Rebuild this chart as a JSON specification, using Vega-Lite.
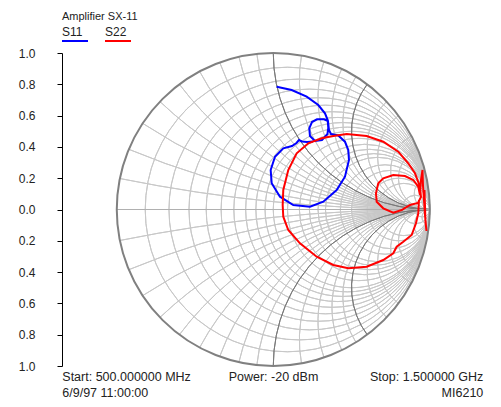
{
  "$schema": "https://vega.github.io/schema/vega-lite/v6.json",
  "width": 429,
  "height": 313,
  "autosize": {"type": "none"},
  "padding": {"left": 62, "top": 53, "right": 10, "bottom": 41},
  "config": {
    "view": {"stroke": null},
    "font": "Liberation Sans",
    "text": {"font": "Liberation Sans"}
  },
  "title": {"text": "Amplifier SX-11", "anchor": "start", "frame": "group", "fontSize": 11, "fontWeight": "normal", "color": "#222222", "font": "Liberation Sans", "offset": 4},
  "datasets": {
    "grid": [
      {"u": 0.0909, "v": 0, "rad": 0.9091, "t1": 0, "t2": 360, "kind": "fine"},
      {"u": 0.1667, "v": 0, "rad": 0.8333, "t1": 0, "t2": 360, "kind": "fine"},
      {"u": 0.2308, "v": 0, "rad": 0.7692, "t1": 0, "t2": 360, "kind": "fine"},
      {"u": 0.2857, "v": 0, "rad": 0.7143, "t1": 0, "t2": 360, "kind": "fine"},
      {"u": 0.3333, "v": 0, "rad": 0.6667, "t1": 0, "t2": 360, "kind": "fine"},
      {"u": 0.375, "v": 0, "rad": 0.625, "t1": 0, "t2": 360, "kind": "fine"},
      {"u": 0.4118, "v": 0, "rad": 0.5882, "t1": 0, "t2": 360, "kind": "fine"},
      {"u": 0.4444, "v": 0, "rad": 0.5556, "t1": 0, "t2": 360, "kind": "fine"},
      {"u": 0.4737, "v": 0, "rad": 0.5263, "t1": 0, "t2": 360, "kind": "fine"},
      {"u": 0.5, "v": 0, "rad": 0.5, "t1": 0, "t2": 360, "kind": "fine"},
      {"u": 0.5455, "v": 0, "rad": 0.4545, "t1": 0, "t2": 360, "kind": "fine"},
      {"u": 0.5833, "v": 0, "rad": 0.4167, "t1": 0, "t2": 360, "kind": "fine"},
      {"u": 0.6154, "v": 0, "rad": 0.3846, "t1": 0, "t2": 360, "kind": "fine"},
      {"u": 0.6429, "v": 0, "rad": 0.3571, "t1": 0, "t2": 360, "kind": "fine"},
      {"u": 0.6667, "v": 0, "rad": 0.3333, "t1": 0, "t2": 360, "kind": "fine"},
      {"u": 0.7143, "v": 0, "rad": 0.2857, "t1": 0, "t2": 360, "kind": "fine"},
      {"u": 0.75, "v": 0, "rad": 0.25, "t1": 0, "t2": 360, "kind": "fine"},
      {"u": 0.8, "v": 0, "rad": 0.2, "t1": 0, "t2": 360, "kind": "fine"},
      {"u": 0.8333, "v": 0, "rad": 0.1667, "t1": 0, "t2": 360, "kind": "fine"},
      {"u": 0.9091, "v": 0, "rad": 0.0909, "t1": 0, "t2": 360, "kind": "fine"},
      {"u": 0.9524, "v": 0, "rad": 0.0476, "t1": 0, "t2": 360, "kind": "fine"},
      {"u": 1, "v": 10, "rad": 10, "t1": 180, "t2": 191.42, "kind": "fine"},
      {"u": 1, "v": 5, "rad": 5, "t1": 180, "t2": 202.62, "kind": "fine"},
      {"u": 1, "v": 3.3333, "rad": 3.3333, "t1": 180, "t2": 213.4, "kind": "fine"},
      {"u": 1, "v": 2.5, "rad": 2.5, "t1": 180, "t2": 223.6, "kind": "fine"},
      {"u": 1, "v": 2, "rad": 2, "t1": 180, "t2": 233.13, "kind": "fine"},
      {"u": 1, "v": 1.6667, "rad": 1.6667, "t1": 180, "t2": 241.93, "kind": "fine"},
      {"u": 1, "v": 1.4286, "rad": 1.4286, "t1": 180, "t2": 249.99, "kind": "fine"},
      {"u": 1, "v": 1.25, "rad": 1.25, "t1": 180, "t2": 257.32, "kind": "fine"},
      {"u": 1, "v": 1.1111, "rad": 1.1111, "t1": 180, "t2": 263.97, "kind": "fine"},
      {"u": 1, "v": 1, "rad": 1, "t1": 180, "t2": 270, "kind": "major"},
      {"u": 1, "v": 0.8333, "rad": 0.8333, "t1": 180, "t2": 280.39, "kind": "fine"},
      {"u": 1, "v": 0.7143, "rad": 0.7143, "t1": 180, "t2": 288.92, "kind": "fine"},
      {"u": 1, "v": 0.625, "rad": 0.625, "t1": 180, "t2": 295.99, "kind": "fine"},
      {"u": 1, "v": 0.5556, "rad": 0.5556, "t1": 180, "t2": 301.89, "kind": "fine"},
      {"u": 1, "v": 0.5, "rad": 0.5, "t1": 180, "t2": 306.87, "kind": "major"},
      {"u": 1, "v": 0.4, "rad": 0.4, "t1": 180, "t2": 316.4, "kind": "fine"},
      {"u": 1, "v": 0.3333, "rad": 0.3333, "t1": 180, "t2": 323.13, "kind": "fine"},
      {"u": 1, "v": 0.25, "rad": 0.25, "t1": 180, "t2": 331.93, "kind": "fine"},
      {"u": 1, "v": 0.2, "rad": 0.2, "t1": 180, "t2": 337.38, "kind": "fine"},
      {"u": 1, "v": 0.1, "rad": 0.1, "t1": 180, "t2": 348.58, "kind": "fine"},
      {"u": 1, "v": 0.05, "rad": 0.05, "t1": 180, "t2": 354.28, "kind": "fine"},
      {"u": 1, "v": -10, "rad": 10, "t1": 348.58, "t2": 360, "kind": "fine"},
      {"u": 1, "v": -5, "rad": 5, "t1": 337.38, "t2": 360, "kind": "fine"},
      {"u": 1, "v": -3.3333, "rad": 3.3333, "t1": 326.6, "t2": 360, "kind": "fine"},
      {"u": 1, "v": -2.5, "rad": 2.5, "t1": 316.4, "t2": 360, "kind": "fine"},
      {"u": 1, "v": -2, "rad": 2, "t1": 306.87, "t2": 360, "kind": "fine"},
      {"u": 1, "v": -1.6667, "rad": 1.6667, "t1": 298.07, "t2": 360, "kind": "fine"},
      {"u": 1, "v": -1.4286, "rad": 1.4286, "t1": 290.01, "t2": 360, "kind": "fine"},
      {"u": 1, "v": -1.25, "rad": 1.25, "t1": 282.68, "t2": 360, "kind": "fine"},
      {"u": 1, "v": -1.1111, "rad": 1.1111, "t1": 276.03, "t2": 360, "kind": "fine"},
      {"u": 1, "v": -1, "rad": 1, "t1": 270, "t2": 360, "kind": "major"},
      {"u": 1, "v": -0.8333, "rad": 0.8333, "t1": 259.61, "t2": 360, "kind": "fine"},
      {"u": 1, "v": -0.7143, "rad": 0.7143, "t1": 251.08, "t2": 360, "kind": "fine"},
      {"u": 1, "v": -0.625, "rad": 0.625, "t1": 244.01, "t2": 360, "kind": "fine"},
      {"u": 1, "v": -0.5556, "rad": 0.5556, "t1": 238.11, "t2": 360, "kind": "fine"},
      {"u": 1, "v": -0.5, "rad": 0.5, "t1": 233.13, "t2": 360, "kind": "major"},
      {"u": 1, "v": -0.4, "rad": 0.4, "t1": 223.6, "t2": 360, "kind": "fine"},
      {"u": 1, "v": -0.3333, "rad": 0.3333, "t1": 216.87, "t2": 360, "kind": "fine"},
      {"u": 1, "v": -0.25, "rad": 0.25, "t1": 208.07, "t2": 360, "kind": "fine"},
      {"u": 1, "v": -0.2, "rad": 0.2, "t1": 202.62, "t2": 360, "kind": "fine"},
      {"u": 1, "v": -0.1, "rad": 0.1, "t1": 191.42, "t2": 360, "kind": "fine"},
      {"u": 1, "v": -0.05, "rad": 0.05, "t1": 185.72, "t2": 360, "kind": "fine"},
      {"u": 0, "v": 0, "rad": 1, "t1": 0, "t2": 360, "kind": "outer"}
    ],
    "traces": [
      {"series": "S11", "i": 1, "u": 0.0217, "v": 0.7847},
      {"series": "S11", "i": 2, "u": 0.1176, "v": 0.7636},
      {"series": "S11", "i": 3, "u": 0.2134, "v": 0.7208},
      {"series": "S11", "i": 4, "u": 0.2875, "v": 0.6677},
      {"series": "S11", "i": 5, "u": 0.3304, "v": 0.6147},
      {"series": "S11", "i": 6, "u": 0.3476, "v": 0.5719},
      {"series": "S11", "i": 7, "u": 0.3514, "v": 0.5208},
      {"series": "S11", "i": 8, "u": 0.3463, "v": 0.4824},
      {"series": "S11", "i": 9, "u": 0.3112, "v": 0.4441},
      {"series": "S11", "i": 10, "u": 0.2665, "v": 0.4377},
      {"series": "S11", "i": 11, "u": 0.2345, "v": 0.4696},
      {"series": "S11", "i": 12, "u": 0.23, "v": 0.5188},
      {"series": "S11", "i": 13, "u": 0.2473, "v": 0.5591},
      {"series": "S11", "i": 14, "u": 0.2792, "v": 0.5764},
      {"series": "S11", "i": 15, "u": 0.324, "v": 0.5764},
      {"series": "S11", "i": 16, "u": 0.3495, "v": 0.5655},
      {"series": "S11", "i": 17, "u": 0.3559, "v": 0.508},
      {"series": "S11", "i": 18, "u": 0.3687, "v": 0.4824},
      {"series": "S11", "i": 19, "u": 0.4153, "v": 0.4728},
      {"series": "S11", "i": 20, "u": 0.4581, "v": 0.4332},
      {"series": "S11", "i": 21, "u": 0.4792, "v": 0.3802},
      {"series": "S11", "i": 22, "u": 0.4837, "v": 0.3163},
      {"series": "S11", "i": 23, "u": 0.4581, "v": 0.2096},
      {"series": "S11", "i": 24, "u": 0.4051, "v": 0.1246},
      {"series": "S11", "i": 25, "u": 0.3195, "v": 0.0498},
      {"series": "S11", "i": 26, "u": 0.2345, "v": 0.0179},
      {"series": "S11", "i": 27, "u": 0.1278, "v": 0.0288},
      {"series": "S11", "i": 28, "u": 0.0428, "v": 0.0818},
      {"series": "S11", "i": 29, "u": -0.0102, "v": 0.1674},
      {"series": "S11", "i": 30, "u": -0.0166, "v": 0.2524},
      {"series": "S11", "i": 31, "u": 0.0109, "v": 0.3374},
      {"series": "S11", "i": 32, "u": 0.0639, "v": 0.3911},
      {"series": "S11", "i": 33, "u": 0.1195, "v": 0.4058},
      {"series": "S11", "i": 34, "u": 0.1482, "v": 0.4249},
      {"series": "S11", "i": 35, "u": 0.1642, "v": 0.4441},
      {"series": "S11", "i": 36, "u": 0.1834, "v": 0.4345},
      {"series": "S11", "i": 37, "u": 0.2153, "v": 0.4313},
      {"series": "S11", "i": 38, "u": 0.2537, "v": 0.4345},
      {"series": "S22", "i": 1, "u": 0.931, "v": 0.0607},
      {"series": "S22", "i": 2, "u": 0.9265, "v": -0.0243},
      {"series": "S22", "i": 3, "u": 0.9118, "v": -0.0882},
      {"series": "S22", "i": 4, "u": 0.8843, "v": -0.1629},
      {"series": "S22", "i": 5, "u": 0.8307, "v": -0.2058},
      {"series": "S22", "i": 6, "u": 0.7885, "v": -0.2377},
      {"series": "S22", "i": 7, "u": 0.7668, "v": -0.2799},
      {"series": "S22", "i": 8, "u": 0.7029, "v": -0.3227},
      {"series": "S22", "i": 9, "u": 0.5968, "v": -0.3655},
      {"series": "S22", "i": 10, "u": 0.4792, "v": -0.3757},
      {"series": "S22", "i": 11, "u": 0.3834, "v": -0.3546},
      {"series": "S22", "i": 12, "u": 0.2773, "v": -0.3016},
      {"series": "S22", "i": 13, "u": 0.1706, "v": -0.216},
      {"series": "S22", "i": 14, "u": 0.0958, "v": -0.131},
      {"series": "S22", "i": 15, "u": 0.0639, "v": -0.046},
      {"series": "S22", "i": 16, "u": 0.0601, "v": 0.0288},
      {"series": "S22", "i": 17, "u": 0.0639, "v": 0.1246},
      {"series": "S22", "i": 18, "u": 0.0958, "v": 0.2524},
      {"series": "S22", "i": 19, "u": 0.1495, "v": 0.3591},
      {"series": "S22", "i": 20, "u": 0.2236, "v": 0.423},
      {"series": "S22", "i": 21, "u": 0.3093, "v": 0.455},
      {"series": "S22", "i": 22, "u": 0.3834, "v": 0.4696},
      {"series": "S22", "i": 23, "u": 0.469, "v": 0.4824},
      {"series": "S22", "i": 24, "u": 0.5968, "v": 0.4696},
      {"series": "S22", "i": 25, "u": 0.7029, "v": 0.4332},
      {"series": "S22", "i": 26, "u": 0.7987, "v": 0.3693},
      {"series": "S22", "i": 27, "u": 0.8626, "v": 0.2952},
      {"series": "S22", "i": 28, "u": 0.9054, "v": 0.2313},
      {"series": "S22", "i": 29, "u": 0.9374, "v": 0.1457},
      {"series": "S22", "i": 30, "u": 0.9438, "v": 0.0799},
      {"series": "S22", "i": 31, "u": 0.9246, "v": 0.0415},
      {"series": "S22", "i": 32, "u": 0.8735, "v": 0.0288},
      {"series": "S22", "i": 33, "u": 0.8204, "v": -0.0032},
      {"series": "S22", "i": 34, "u": 0.7668, "v": -0.0204},
      {"series": "S22", "i": 35, "u": 0.7029, "v": 0.0077},
      {"series": "S22", "i": 36, "u": 0.6607, "v": 0.0498},
      {"series": "S22", "i": 37, "u": 0.6562, "v": 0.1035},
      {"series": "S22", "i": 38, "u": 0.6709, "v": 0.1674},
      {"series": "S22", "i": 39, "u": 0.7029, "v": 0.1994},
      {"series": "S22", "i": 40, "u": 0.7668, "v": 0.2204},
      {"series": "S22", "i": 41, "u": 0.8415, "v": 0.2141},
      {"series": "S22", "i": 42, "u": 0.8946, "v": 0.1885},
      {"series": "S22", "i": 43, "u": 0.9265, "v": 0.1457},
      {"series": "S22", "i": 44, "u": 0.9374, "v": 0.0927},
      {"series": "S22", "i": 45, "u": 0.9438, "v": 0.1885},
      {"series": "S22", "i": 46, "u": 0.9534, "v": 0.2524},
      {"series": "S22", "i": 47, "u": 0.9565, "v": 0.1565},
      {"series": "S22", "i": 48, "u": 0.9629, "v": 0.0607},
      {"series": "S22", "i": 49, "u": 0.9693, "v": -0.0351},
      {"series": "S22", "i": 50, "u": 0.9789, "v": -0.1374},
      {"series": "S22", "i": 51, "u": 0.9725, "v": -0.0799},
      {"series": "S22", "i": 52, "u": 0.9693, "v": 0.0288},
      {"series": "S22", "i": 53, "u": 0.9661, "v": 0.1246}
    ]
  },
  "encoding": {
    "x": {"field": "u", "type": "quantitative", "scale": {"domain": [-1.35, 1.3912], "nice": false, "zero": false}, "axis": null},
    "y": {"field": "v", "type": "quantitative", "scale": {"domain": [-1, 1], "nice": false, "zero": false},
      "axis": {"values": [-1, -0.8, -0.6, -0.4, -0.2, 0, 0.2, 0.4, 0.6, 0.8, 1], "labelExpr": "format(abs(datum.value), '.1f')", "title": null, "grid": false, "domainColor": "#000000", "tickColor": "#000000", "tickSize": 5, "labelPadding": 22, "labelFontSize": 12, "labelColor": "#222222", "labelFont": "Liberation Sans", "labelFlush": false}}
  },
  "layer": [
    {
      "data": {"name": "grid"},
      "transform": [{"filter": "datum.kind == 'fine'"}],
      "mark": {"type": "arc", "filled": false, "stroke": "#c8c8c8", "strokeWidth": 1},
      "encoding": {
        "theta": {"field": "t1", "type": "quantitative", "stack": null, "scale": {"type": "linear", "domain": [0, 360], "range": [0, 6.283185307179586]}},
        "theta2": {"field": "t2"},
        "radius": {"field": "rad", "type": "quantitative", "scale": {"type": "linear", "domain": [0, 1], "range": [0, 156.5], "zero": true}},
        "radius2": {"field": "rad"}
      }
    },
    {
      "data": {"name": "grid"},
      "transform": [{"filter": "datum.kind == 'major'"}],
      "mark": {"type": "arc", "filled": false, "stroke": "#7a7a7a", "strokeWidth": 1},
      "encoding": {
        "theta": {"field": "t1", "type": "quantitative", "stack": null},
        "theta2": {"field": "t2"},
        "radius": {"field": "rad", "type": "quantitative"},
        "radius2": {"field": "rad"}
      }
    },
    {
      "data": {"values": [{"u": -1, "u2": 1, "v": 0}]},
      "mark": {"type": "rule", "stroke": "#b0b0b0", "strokeWidth": 1},
      "encoding": {"x2": {"field": "u2"}}
    },
    {
      "data": {"name": "grid"},
      "transform": [{"filter": "datum.kind == 'outer'"}],
      "mark": {"type": "arc", "filled": false, "stroke": "#808080", "strokeWidth": 2},
      "encoding": {
        "theta": {"field": "t1", "type": "quantitative", "stack": null},
        "theta2": {"field": "t2"},
        "radius": {"field": "rad", "type": "quantitative"},
        "radius2": {"field": "rad"}
      }
    },
    {
      "data": {"name": "traces"},
      "mark": {"type": "line", "strokeWidth": 2, "interpolate": "linear"},
      "encoding": {
        "order": {"field": "i", "type": "quantitative"},
        "color": {"field": "series", "type": "nominal", "scale": {"domain": ["S11", "S22"], "range": ["#0000ff", "#ff0000"]},
          "legend": {"orient": "none", "legendX": 0, "legendY": -27, "direction": "horizontal", "title": null, "symbolType": "M-1.2,1.8L4,1.8", "symbolSize": 100, "symbolStrokeWidth": 2, "labelOffset": -12, "labelFontSize": 12, "labelColor": "#222222", "labelFont": "Liberation Sans", "columnPadding": 9, "padding": 0}}
      }
    },
    {
      "data": {"values": [
        {"label": "Start: 500.000000 MHz", "u": -1.348, "v": -1.096},
        {"label": "Power: -20 dBm", "u": -0.285, "v": -1.096},
        {"label": "6/9/97 11:00:00", "u": -1.348, "v": -1.201}
      ]},
      "mark": {"type": "text", "align": "left", "baseline": "alphabetic", "fontSize": 12.5, "color": "#222222", "font": "Liberation Sans"},
      "encoding": {"text": {"field": "label"}}
    },
    {
      "data": {"values": [
        {"label": "Stop: 1.500000 GHz", "u": 1.342, "v": -1.096},
        {"label": "MI6210", "u": 1.342, "v": -1.201}
      ]},
      "mark": {"type": "text", "align": "right", "baseline": "alphabetic", "fontSize": 12.5, "color": "#222222", "font": "Liberation Sans"},
      "encoding": {"text": {"field": "label"}}
    }
  ]
}
